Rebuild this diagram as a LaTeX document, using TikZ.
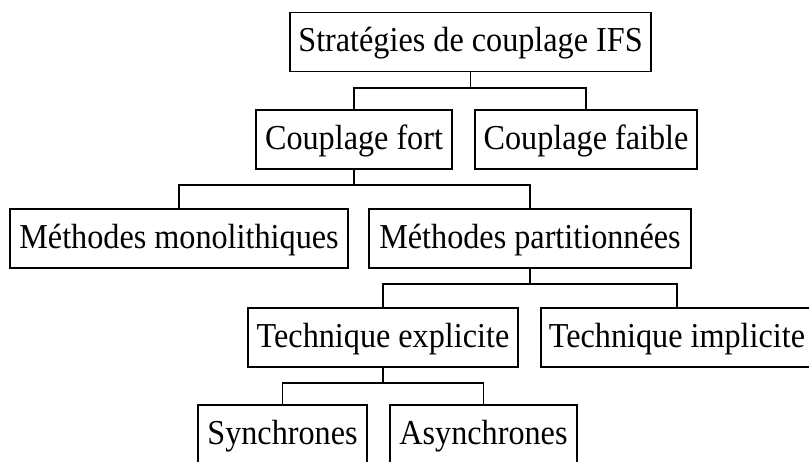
\documentclass[tikz,border=0pt]{standalone}
\usepackage{fontspec}
\setmainfont{Liberation Serif}[FakeStretch=0.92]
\begin{document}
\begin{tikzpicture}[x=1pt,y=-1pt,
  box/.style={draw, line width=1.1pt, inner xsep=0pt, inner ysep=0pt,
    minimum height=59pt, text height=29pt, text depth=10pt,
    font=\fontsize{35}{40}\selectfont},
  conn/.style={draw, line width=1.1pt}]
\useasboundingbox (0,0) rectangle (809,461);
\node[box, minimum width=361pt] (n1) at (470.5,42) {Stratégies de couplage IFS};
\node[box, minimum width=196pt] (fort) at (354,139.5) {Couplage fort};
\node[box, minimum width=222pt] (faible) at (586,139.5) {Couplage faible};
\node[box, minimum width=338pt] (mono) at (179,238.5) {Méthodes monolithiques};
\node[box, minimum width=322pt] (part) at (530,238.5) {Méthodes partitionnées};
\node[box, minimum width=270pt] (expl) at (383,337.5) {Technique explicite};
\node[box, minimum width=272pt] (impl) at (677,337.5) {Technique implicite};
\node[box, minimum width=169pt] (sync) at (282.5,434.5) {Synchrones};
\node[box, minimum width=187pt] (async) at (483.5,434.5) {Asynchrones};
\coordinate (r1) at (0,88);
\coordinate (r2) at (0,185);
\coordinate (r3) at (0,284);
\coordinate (r4) at (0,383);
\draw[conn] (n1.south) -- (n1.south |- r1);
\draw[conn] (fort.north) |- (faible.north |- r1) -- (faible.north);
\draw[conn] (fort.south) -- (fort.south |- r2);
\draw[conn] (mono.north) |- (part.north |- r2) -- (part.north);
\draw[conn] (part.south) -- (part.south |- r3);
\draw[conn] (expl.north) |- (impl.north |- r3) -- (impl.north);
\draw[conn] (expl.south) -- (expl.south |- r4);
\draw[conn] (sync.north) |- (async.north |- r4) -- (async.north);
\end{tikzpicture}
\end{document}
